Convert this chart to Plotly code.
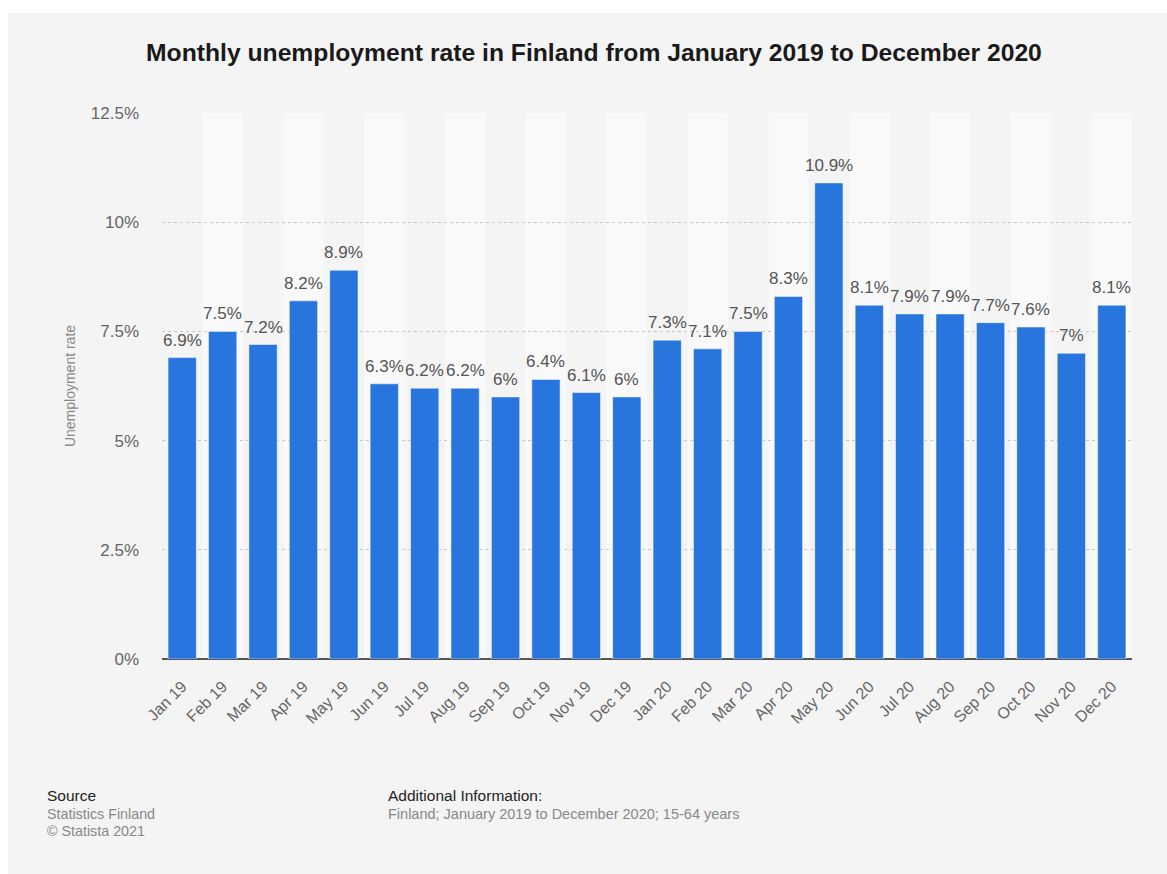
import plotly.graph_objects as go

months = ["Jan 19", "Feb 19", "Mar 19", "Apr 19", "May 19", "Jun 19", "Jul 19", "Aug 19",
          "Sep 19", "Oct 19", "Nov 19", "Dec 19", "Jan 20", "Feb 20", "Mar 20", "Apr 20",
          "May 20", "Jun 20", "Jul 20", "Aug 20", "Sep 20", "Oct 20", "Nov 20", "Dec 20"]
rates = [6.9, 7.5, 7.2, 8.2, 8.9, 6.3, 6.2, 6.2, 6.0, 6.4, 6.1, 6.0,
         7.3, 7.1, 7.5, 8.3, 10.9, 8.1, 7.9, 7.9, 7.7, 7.6, 7.0, 8.1]
y_ticks = [0, 2.5, 5, 7.5, 10, 12.5]
y_tick_labels = ["0%", "2.5%", "5%", "7.5%", "10%", "12.5%"]

FONT = "Liberation Sans, Arial, Helvetica, sans-serif"
PANEL = "#f4f4f4"

# plot-area geometry in pixels
W, H = 1167, 874
L, R, T, B = 162, 35, 113, 215
PW, PH = W - L - R, H - T - B


def px_x(x):
    return (x - L) / PW


def px_y(y):
    return (H - y - B) / PH


fig = go.Figure()
fig.add_trace(go.Bar(
    x=list(range(len(months))),
    y=rates,
    marker=dict(color="#2876dd", line=dict(color="rgba(255,255,255,0.5)", width=1)),
    width=0.7,
    hoverinfo="skip",
))

shapes = [
    # white strips along the top and left edges of the grey card
    dict(type="rect", xref="paper", yref="paper", x0=px_x(-5), x1=px_x(W + 5),
         y0=px_y(13), y1=px_y(-5), fillcolor="white", line=dict(width=0), layer="below"),
    dict(type="rect", xref="paper", yref="paper", x0=px_x(-5), x1=px_x(8),
         y0=px_y(H + 5), y1=px_y(-5), fillcolor="white", line=dict(width=0), layer="below"),
]
# alternating column stripes
for i in range(len(months)):
    if i % 2 == 1:
        shapes.append(dict(type="rect", xref="x", yref="y", x0=i - 0.5, x1=i + 0.5,
                           y0=0, y1=y_ticks[-1], fillcolor="#f9f9f9",
                           line=dict(width=0), layer="below"))

annotations = [
    dict(text=f"{v:g}%", x=i, y=v, xref="x", yref="y", xanchor="center", yanchor="bottom",
         yshift=6, showarrow=False, font=dict(family=FONT, size=17, color="#555555"))
    for i, v in enumerate(rates)
]


def note(text, x, y, size, color):
    return dict(text=text, xref="paper", yref="paper", x=px_x(x), y=px_y(y),
                xanchor="left", yanchor="middle", showarrow=False,
                font=dict(family=FONT, size=size, color=color))


annotations += [
    dict(text="<b>Monthly unemployment rate in Finland from January 2019 to December 2020</b>",
         xref="paper", yref="paper", x=px_x(594), y=px_y(53),
         xanchor="center", yanchor="middle", showarrow=False,
         font=dict(family=FONT, size=24.7, color="#1a1a1a")),
    note("Source", 45, 795, 15.5, "#222222"),
    note("Statistics Finland", 45, 814, 14.3, "#888888"),
    note("© Statista 2021", 45, 831, 14.3, "#888888"),
    note("Additional Information:", 386, 795, 15.5, "#222222"),
    note("Finland; January 2019 to December 2020; 15-64 years", 386, 814, 14.5, "#888888"),
]

fig.update_layout(
    width=W, height=H,
    margin=dict(l=L, r=R, t=T, b=B),
    paper_bgcolor=PANEL,
    plot_bgcolor="rgba(0,0,0,0)",
    showlegend=False,
    shapes=shapes,
    annotations=annotations,
    font=dict(family=FONT),
    xaxis=dict(
        range=[-0.5, len(months) - 0.5],
        tickmode="array",
        tickvals=list(range(len(months))),
        ticktext=months,
        tickangle=-45,
        tickfont=dict(family=FONT, size=16, color="#666666"),
        showgrid=False,
        zeroline=False,
        showline=False,
        ticks="",
        ticklabelstandoff=14,
    ),
    yaxis=dict(
        range=[0, 12.5],
        tickmode="array",
        tickvals=y_ticks,
        ticktext=y_tick_labels,
        tickfont=dict(family=FONT, size=17, color="#666666"),
        showgrid=True,
        gridcolor="#c8c8c8",
        griddash="dot",
        gridwidth=1,
        zeroline=True,
        zerolinecolor="#555555",
        zerolinewidth=2,
        ticks="",
        ticklabelstandoff=22,
        title=dict(text="Unemployment rate", font=dict(family=FONT, size=14, color="#888888"),
                   standoff=11),
    ),
)

# let the page background continue the grey card past the figure edges
page_css = (
    "document.documentElement.style.background='%s';"
    "document.body.style.background='%s';"
    "document.body.style.margin='0';" % (PANEL, PANEL)
)

fig.write_html("out.html", post_script=page_css)
